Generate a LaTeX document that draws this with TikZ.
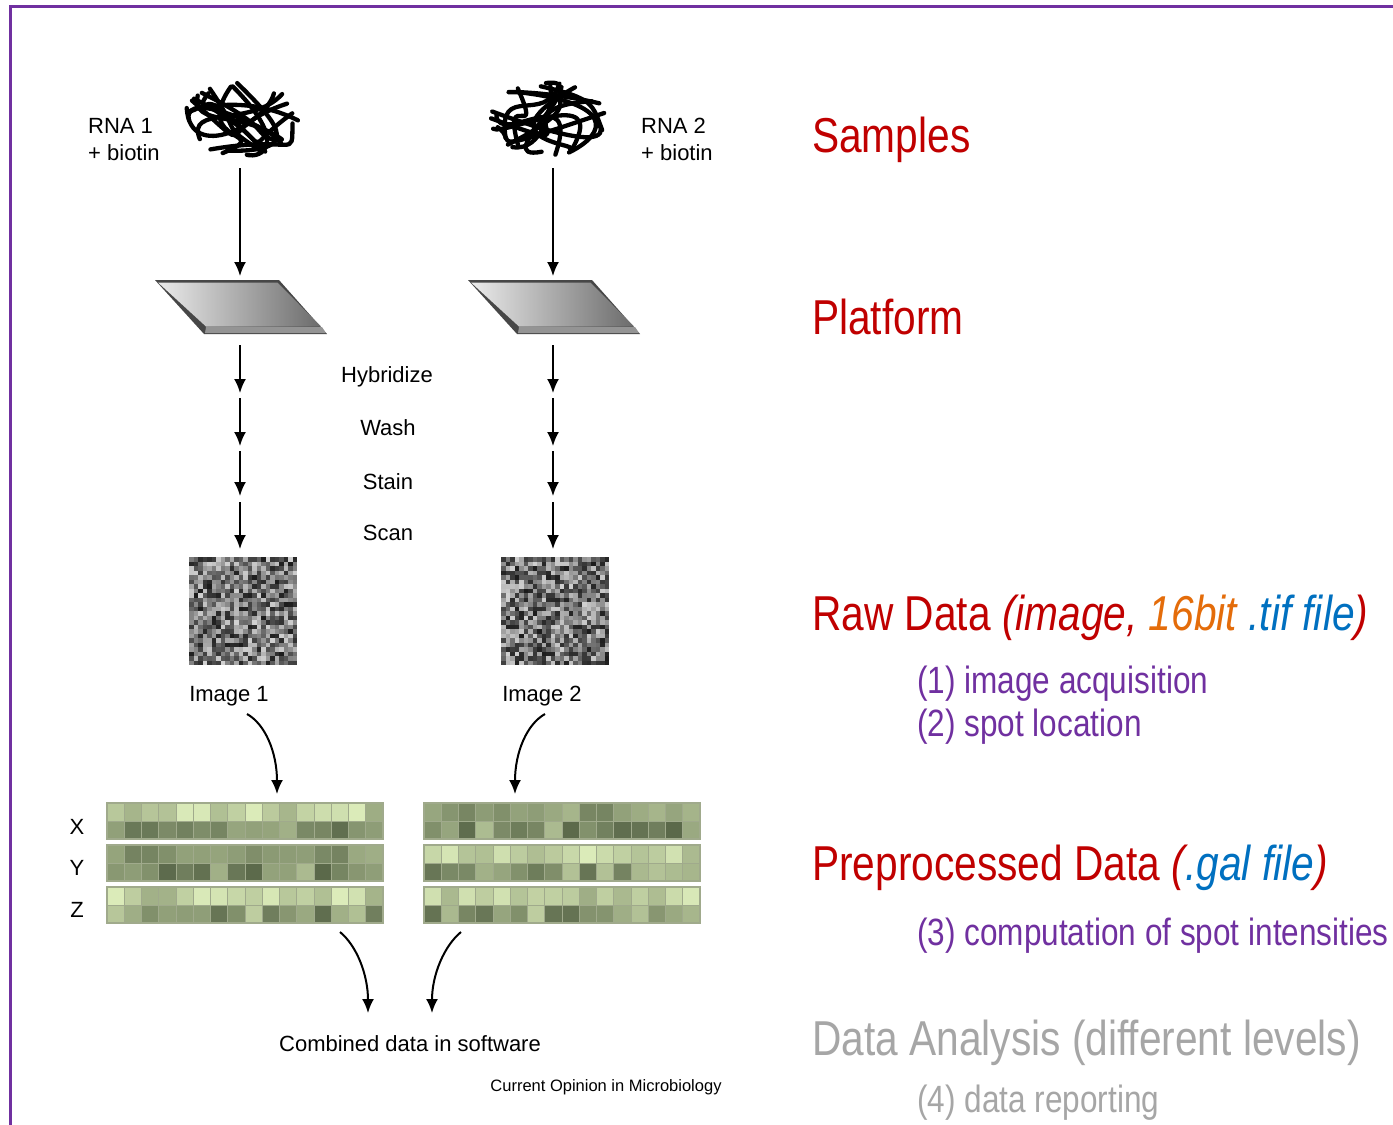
\documentclass[tikz,border=0pt]{standalone}
\usepackage{fontspec}
\setmainfont{Liberation Sans}
\newfontfamily\narrowfont[FakeStretch=0.83]{Liberation Sans}
\usetikzlibrary{arrows.meta}
\definecolor{framepurple}{HTML}{7030A0}
\definecolor{headred}{HTML}{C00000}
\definecolor{steppurple}{HTML}{7030A0}
\definecolor{bitorange}{HTML}{E46C0A}
\definecolor{fileblue}{HTML}{0070C0}
\definecolor{fadedgray}{HTML}{A6A6A6}
\definecolor{stripLight}{RGB}{220,236,186}
\definecolor{stripDark}{RGB}{88,102,72}
\definecolor{stripEdge}{RGB}{160,170,140}

% tangled RNA strands around (#1,#2), random seed #3
\newcommand\drawRNAblob[3]{%
  \pgfmathsetseed{#3}%
  \begin{scope}[shift={(#1,#2)}]
    \foreach \k in {1,...,14}{
      \pgfmathsetmacro\angA{360*rnd}
      \pgfmathsetmacro\ax{57*cos(\angA)}
      \pgfmathsetmacro\ay{36*sin(\angA)}
      \pgfmathsetmacro\bx{72*rand}
      \pgfmathsetmacro\by{46*rand}
      \pgfmathsetmacro\cx{72*rand}
      \pgfmathsetmacro\cy{46*rand}
      \pgfmathsetmacro\angB{\angA+100+160*rnd}
      \pgfmathsetmacro\dx{52*cos(\angB)}
      \pgfmathsetmacro\dy{33*sin(\angB)}
      \draw[rnastrand] (\ax,\ay) .. controls (\bx,\by) and (\cx,\cy) .. (\dx,\dy);
    }
  \end{scope}}

% glass slide seen in perspective, shifted by #1
\newcommand\drawGlassSlide[1]{%
  \begin{scope}[shift={(#1,0)}]
    \fill[black!72] (155,280) -- (279,280) -- (327,334) -- (204,334) -- cycle;
    \fill[black!42] (206,327) -- (322,327) -- (326,333) -- (205,333) -- cycle;
    \shade[left color=black!8,right color=black!58]
      (158,282.5) -- (277.5,282.5) -- (321,326.5) -- (206,326.5) -- cycle;
  \end{scope}}

% scanned array image, top-left corner (#1,#2), seed #3
\newcommand\drawScanImage[3]{%
  \pgfmathsetseed{#3}%
  \foreach \i in {0,...,23}{
    \foreach \j in {0,...,23}{
      \pgfmathtruncatemacro\gv{18+72*rnd}
      \fill[black!\gv] (#1+\i*4.5,#2+\j*4.5) rectangle ++(4.6,4.6);
    }
  }}

\begin{document}
\begin{tikzpicture}[x=1pt,y=-1pt,
  flow/.style={line width=2pt,-{Latex[length=14pt,width=12pt]}},
  rnastrand/.style={line width=4.3pt,line cap=round,line join=round},
  smalllabel/.style={font=\fontsize{22}{26}\selectfont,inner sep=0pt},
  headtext/.style={font=\narrowfont\fontsize{49}{56}\selectfont,anchor=base west,inner sep=0pt,text=headred},
  steptext/.style={font=\narrowfont\fontsize{38}{44}\selectfont,anchor=base west,inner sep=0pt,text=steppurple},
]
\useasboundingbox (0,0) rectangle (1393,1125);
\fill[white] (0,0) rectangle (1393,1125);

% frame
\draw[framepurple,line width=3pt] (10,1126) -- (10,6) -- (1394,6);

% samples
\drawRNAblob{241}{119}{11}
\drawRNAblob{548}{119}{29}
\node[smalllabel,anchor=base west] (rna1a) at (88,133) {RNA 1};
\node[smalllabel,anchor=base west] (rna1b) at (88,160) {+ biotin};
\node[smalllabel,anchor=base west] (rna2a) at (641,133) {RNA 2};
\node[smalllabel,anchor=base west] (rna2b) at (641,160) {+ biotin};

% platforms
\drawGlassSlide{0}
\drawGlassSlide{313}

\coordinate (s1top) at (240,168);
\coordinate (s1bot) at (240,276);
\coordinate (s2top) at (553,168);
\coordinate (s2bot) at (553,276);
\draw[flow] (s1top) -- (s1bot);
\draw[flow] (s2top) -- (s2bot);

% processing steps
\foreach \n/\ya/\yb in {1/345/393,2/398/446,3/451/496,4/502/549}{
  \coordinate (l\n a) at (240,\ya);
  \coordinate (l\n b) at (240,\yb);
  \coordinate (r\n a) at (553,\ya);
  \coordinate (r\n b) at (553,\yb);
  \draw[flow] (l\n a) -- (l\n b);
  \draw[flow] (r\n a) -- (r\n b);
}
\node[smalllabel,anchor=base] (hyb) at (387,382) {Hybridize};
\node[smalllabel,anchor=base] (wash) at (388,435) {Wash};
\node[smalllabel,anchor=base] (stain) at (388,489) {Stain};
\node[smalllabel,anchor=base] (scan) at (388,540) {Scan};

% raw images
\drawScanImage{189}{557}{5}
\drawScanImage{501}{557}{17}
\node[smalllabel,anchor=base] (img1) at (229,701) {Image 1};
\node[smalllabel,anchor=base] (img2) at (542,701) {Image 2};

\coordinate (c1a) at (247,714);
\coordinate (c1b) at (277,794);
\coordinate (c2a) at (545,714);
\coordinate (c2b) at (515,794);
\draw[flow] (c1a) .. controls (265,724) and (277,752) .. (c1b);
\draw[flow] (c2a) .. controls (527,724) and (515,752) .. (c2b);

% intensity strips
\pgfmathsetseed{41}
\foreach \sx/\sy/\ta/\tb/\ba/\bb in {
   107/803/0/50/45/55, 107/845/45/35/35/65, 107/887/0/50/20/75,
   424/803/40/40/35/65, 424/845/0/45/25/70, 424/887/0/50/20/75}{
  \foreach \c in {0,...,15}{
    \pgfmathtruncatemacro\pt{\ta+\tb*rnd}
    \pgfmathtruncatemacro\pb{\ba+\bb*rnd}
    \filldraw[fill=stripDark!\pt!stripLight,draw=stripEdge,line width=0.7pt]
      (\sx+\c*17.25,\sy) rectangle ++(17.25,18);
    \filldraw[fill=stripDark!\pb!stripLight,draw=stripEdge,line width=0.7pt]
      (\sx+\c*17.25,\sy+18) rectangle ++(17.25,18);
  }
  \draw[stripEdge,line width=1.2pt] (\sx,\sy) rectangle ++(276,36);
}
\node[smalllabel,anchor=base] (rowx) at (77,834) {X};
\node[smalllabel,anchor=base] (rowy) at (77,875) {Y};
\node[smalllabel,anchor=base] (rowz) at (77,917) {Z};

\coordinate (d1a) at (340,932);
\coordinate (d1b) at (368,1013);
\coordinate (d2a) at (461,932);
\coordinate (d2b) at (432,1013);
\draw[flow] (d1a) .. controls (357,946) and (368,975) .. (d1b);
\draw[flow] (d2a) .. controls (444,946) and (432,975) .. (d2b);

\node[smalllabel,anchor=base] (combined) at (410,1051) {Combined data in software};
\node[inner sep=0pt,anchor=base,font=\fontsize{16.5}{20}\selectfont] (credit) at (606,1091) {Current Opinion in Microbiology};

% pipeline stages
\node[headtext] (samples) at (812,152) {Samples};
\node[headtext] (platform) at (812,334) {Platform};
\node[headtext] (rawdata) at (812,630) {Raw Data \textit{(image, \textcolor{bitorange}{16bit} \textcolor{fileblue}{.tif file})}};
\node[steptext] (step1) at (917,693) {(1) image acquisition};
\node[steptext] (step2) at (917,736) {(2) spot location};
\node[headtext] (prepdata) at (812,880) {Preprocessed Data \textit{(\textcolor{fileblue}{.gal file})}};
\node[steptext] (step3) at (917,945) {(3) computation of spot intensities};
\node[headtext,text=fadedgray] (analysis) at (812,1055) {Data Analysis (different levels)};
\node[steptext,text=fadedgray] (step4) at (917,1112) {(4) data reporting};
\end{tikzpicture}
\end{document}
